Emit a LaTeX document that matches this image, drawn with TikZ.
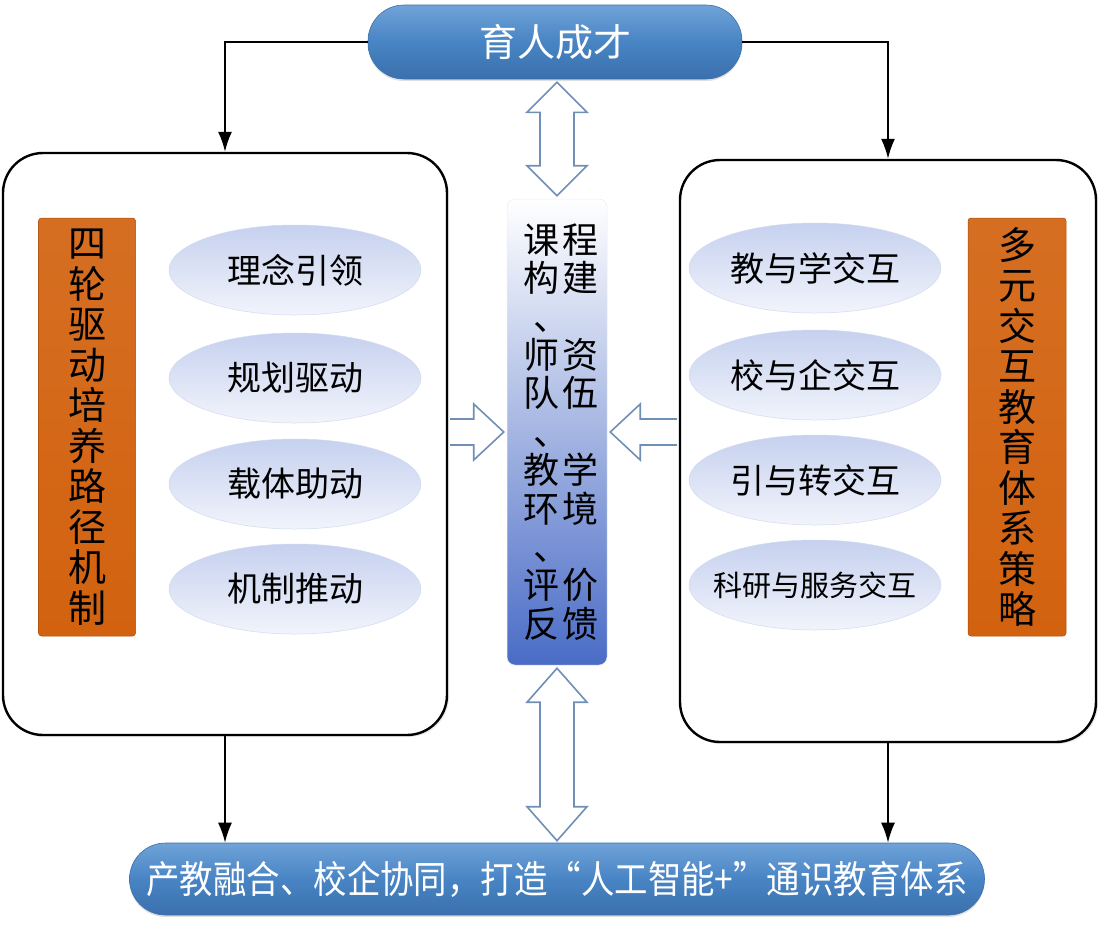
\documentclass[tikz,border=0pt]{standalone}
\usepackage{fontspec}
\setmainfont{Noto Sans CJK SC}
\usetikzlibrary{calc,arrows.meta,shadows,shapes.geometric}
\definecolor{pillmid}{HTML}{4884C4}
\definecolor{pilltop}{HTML}{6FA3D8}
\definecolor{pillbot}{HTML}{3A70AD}
\definecolor{orng}{HTML}{D2620F}
\definecolor{elltop}{HTML}{C6D1EF}
\definecolor{ellbot}{HTML}{F1F4FB}
\definecolor{colblue}{HTML}{4A6CC6}
\definecolor{hollowline}{HTML}{6F8FB6}
\newcommand{\mydun}{\kern10pt、\kern-10pt}
\begin{document}
\begin{tikzpicture}[x=1pt,y=-1pt,
  pill/.style={rectangle, rounded corners=36pt, draw=pillbot, line width=0.6pt,
    top color=pilltop, bottom color=pillbot, middle color=pillmid, text=white,
    drop shadow={opacity=0.25, shadow xshift=0pt, shadow yshift=-2pt}},
  bigbox/.style={rectangle, rounded corners=40pt, draw=black, line width=2.4pt, fill=white,
    drop shadow={opacity=0.15, shadow xshift=2pt, shadow yshift=-2pt}},
  orbox/.style={rectangle, rounded corners=3pt, draw=orng!80!black, line width=0.5pt,
    top color=orng!92!white, bottom color=orng, align=center, text=black,
    font=\fontsize{38}{40.5}\selectfont, inner sep=0pt},
  oval/.style={ellipse, minimum width=252pt, minimum height=90pt, draw=elltop!80!white,
    line width=0.5pt, top color=elltop, bottom color=ellbot, text=black,
    font=\fontsize{34}{34}\selectfont, inner sep=0pt},
  conn/.style={draw=black, line width=1.8pt, -{Latex[length=20pt,width=14pt]}},
  hollow/.style={draw=hollowline, fill=white, line width=1.6pt, line join=miter},
  ccol/.style={font=\fontsize{36}{38.4}\selectfont, inner sep=0pt, text=black, align=center}
]
\useasboundingbox (0,0) rectangle (1103,927);

% main boxes
\node[pill, minimum width=374pt, minimum height=74pt, font=\fontsize{38}{38}\selectfont] (top) at (555,42) {育人成才};
\node[bigbox, minimum width=444pt, minimum height=582pt] (lbox) at (225,444) {};
\node[bigbox, minimum width=416pt, minimum height=582pt] (rbox) at (888,451) {};
\node[pill, minimum width=855pt, minimum height=72pt] (bot) at (557,879)
  {\fontsize{38}{38}\selectfont\scalebox{0.88}[1]{产教融合、校企协同，打造“人工智能+”通识教育体系}};

% centre column
\node[rectangle, rounded corners=8pt, minimum width=100pt, minimum height=466pt,
  top color=white, middle color=white, bottom color=colblue, draw=white!85!gray, line width=0.5pt] (mid) at (557,432) {};
\node[ccol] (cleft) at (541,432) {课\\构\\\mydun\\师\\队\\\mydun\\教\\环\\\mydun\\评\\反};
\node[ccol] (cright) at (580,432) {程\\建\\~\\资\\伍\\~\\学\\境\\~\\价\\馈};

% orange labels
\node[orbox, minimum width=97pt, minimum height=418pt] (lor) at (87,427)
  {四\\轮\\驱\\动\\培\\养\\路\\径\\机\\制};
\node[orbox, minimum width=98pt, minimum height=418pt] (ror) at (1017,427)
  {多\\元\\交\\互\\教\\育\\体\\系\\策\\略};

% ovals left
\node[oval] (l1) at (295,270) {理念引领};
\node[oval] (l2) at (295,378) {规划驱动};
\node[oval] (l3) at (295,484) {载体助动};
\node[oval] (l4) at (295,589) {机制推动};
% ovals right
\node[oval] (r1) at (815,268) {教与学交互};
\node[oval] (r2) at (815,375) {校与企交互};
\node[oval] (r3) at (815,480) {引与转交互};
\node[oval, inner xsep=-30pt, font=\fontsize{29}{29}\selectfont] (r4) at (815,585) {科研与服务交互};

% black connectors
\draw[conn] (top.west) -| (lbox.north);
\draw[conn] (top.east) -| (rbox.north);
\draw[conn] (lbox.south) -- (lbox.south |- bot.north);
\draw[conn] (rbox.south) -- (rbox.south |- bot.north);

% hollow double arrows (vertical)
\coordinate (ta) at ($(mid.north |- top.south)+(0,3)$);
\coordinate (tb) at ($(mid.north)+(0,-3)$);
\draw[hollow] (ta) -- ++(30,30) -- ++(-13,0) -- ($(tb)+(17,-30)$) -- ++(13,0) -- (tb)
  -- ++(-30,-30) -- ++(13,0) -- ($(ta)+(-17,30)$) -- ++(-13,0) -- cycle;
\coordinate (ba) at ($(mid.south)+(0,3)$);
\coordinate (bb) at ($(mid.south |- bot.north)+(0,-2)$);
\draw[hollow] (ba) -- ++(30,34) -- ++(-13,0) -- ($(bb)+(17,-34)$) -- ++(13,0) -- (bb)
  -- ++(-30,-34) -- ++(13,0) -- ($(ba)+(-17,34)$) -- ++(-13,0) -- cycle;

% hollow horizontal arrows
\coordinate (la) at ($(lbox.east |- mid.west)+(2,0)$);
\coordinate (lb) at ($(mid.west)+(-3,0)$);
\draw[hollow] ($(la)+(0,-13)$) -- ($(lb)+(-30,-13)$) -- ($(lb)+(-30,-28)$) -- (lb)
  -- ($(lb)+(-30,28)$) -- ($(lb)+(-30,13)$) -- ($(la)+(0,13)$);
\coordinate (ra) at ($(rbox.west |- mid.east)+(-2,0)$);
\coordinate (rb) at ($(mid.east)+(3,0)$);
\draw[hollow] ($(ra)+(0,-13)$) -- ($(rb)+(30,-13)$) -- ($(rb)+(30,-28)$) -- (rb)
  -- ($(rb)+(30,28)$) -- ($(rb)+(30,13)$) -- ($(ra)+(0,13)$);
\end{tikzpicture}
\end{document}
